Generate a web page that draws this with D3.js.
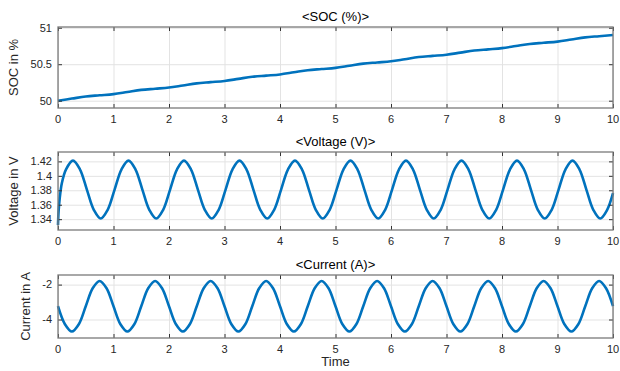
<!DOCTYPE html>
<html>
<head>
<meta charset="utf-8">
<script src="https://cdn.jsdelivr.net/npm/d3@7"></script>
<style>
  body { margin: 0; background: #fff; }
  svg { display: block; font-family: "Liberation Sans", Arial, sans-serif; }
</style>
</head>
<body>
<div id="chart"></div>
<script>
// x ticks shared by all three panels
const timeTicks = [0, 1, 2, 3, 4, 5, 6, 7, 8, 9, 10];

// SOC (%) read every 0.25 s
const socTime = [
    0, 0.25, 0.5, 0.75, 1, 1.25, 1.5, 1.75, 2, 2.25, 2.5, 2.75,
    3, 3.25, 3.5, 3.75, 4, 4.25, 4.5, 4.75, 5, 5.25, 5.5, 5.75,
    6, 6.25, 6.5, 6.75, 7, 7.25, 7.5, 7.75, 8, 8.25, 8.5, 8.75,
    9, 9.25, 9.5, 9.75, 10
];
const socValues = [
    50.000, 50.029, 50.058, 50.074, 50.090, 50.119, 50.148, 50.164,
    50.180, 50.209, 50.238, 50.254, 50.270, 50.299, 50.328, 50.344,
    50.360, 50.389, 50.418, 50.434, 50.450, 50.479, 50.508, 50.524,
    50.540, 50.569, 50.598, 50.614, 50.630, 50.659, 50.688, 50.704,
    50.720, 50.749, 50.778, 50.794, 50.810, 50.839, 50.868, 50.884,
    50.900
];

// Voltage (V) as [time, value]
const voltagePoints = [
    [0, 1.332], [0.01, 1.350], [0.03, 1.368], [0.07, 1.390], [0.145, 1.409], [0.27, 1.421],
    [0.395, 1.409], [0.52, 1.381], [0.645, 1.353], [0.77, 1.341], [0.895, 1.353],
    [1.02, 1.381], [1.145, 1.409], [1.27, 1.421], [1.395, 1.409], [1.52, 1.381], [1.645, 1.353], [1.77, 1.341], [1.895, 1.353],
    [2.02, 1.381], [2.145, 1.409], [2.27, 1.421], [2.395, 1.409], [2.52, 1.381], [2.645, 1.353], [2.77, 1.341], [2.895, 1.353],
    [3.02, 1.381], [3.145, 1.409], [3.27, 1.421], [3.395, 1.409], [3.52, 1.381], [3.645, 1.353], [3.77, 1.341], [3.895, 1.353],
    [4.02, 1.381], [4.145, 1.409], [4.27, 1.421], [4.395, 1.409], [4.52, 1.381], [4.645, 1.353], [4.77, 1.341], [4.895, 1.353],
    [5.02, 1.381], [5.145, 1.409], [5.27, 1.421], [5.395, 1.409], [5.52, 1.381], [5.645, 1.353], [5.77, 1.341], [5.895, 1.353],
    [6.02, 1.381], [6.145, 1.409], [6.27, 1.421], [6.395, 1.409], [6.52, 1.381], [6.645, 1.353], [6.77, 1.341], [6.895, 1.353],
    [7.02, 1.381], [7.145, 1.409], [7.27, 1.421], [7.395, 1.409], [7.52, 1.381], [7.645, 1.353], [7.77, 1.341], [7.895, 1.353],
    [8.02, 1.381], [8.145, 1.409], [8.27, 1.421], [8.395, 1.409], [8.52, 1.381], [8.645, 1.353], [8.77, 1.341], [8.895, 1.353],
    [9.02, 1.381], [9.145, 1.409], [9.27, 1.421], [9.395, 1.409], [9.52, 1.381], [9.645, 1.353], [9.77, 1.341], [9.895, 1.353],
    [10, 1.376]
];

// Current (A) as [time, value], every 0.125 s
const currentPoints = [
    [0, -3.24], [0.125, -4.27], [0.25, -4.69], [0.375, -4.27], [0.5, -3.24], [0.625, -2.21], [0.75, -1.79], [0.875, -2.21],
    [1, -3.24], [1.125, -4.27], [1.25, -4.69], [1.375, -4.27], [1.5, -3.24], [1.625, -2.21], [1.75, -1.79], [1.875, -2.21],
    [2, -3.24], [2.125, -4.27], [2.25, -4.69], [2.375, -4.27], [2.5, -3.24], [2.625, -2.21], [2.75, -1.79], [2.875, -2.21],
    [3, -3.24], [3.125, -4.27], [3.25, -4.69], [3.375, -4.27], [3.5, -3.24], [3.625, -2.21], [3.75, -1.79], [3.875, -2.21],
    [4, -3.24], [4.125, -4.27], [4.25, -4.69], [4.375, -4.27], [4.5, -3.24], [4.625, -2.21], [4.75, -1.79], [4.875, -2.21],
    [5, -3.24], [5.125, -4.27], [5.25, -4.69], [5.375, -4.27], [5.5, -3.24], [5.625, -2.21], [5.75, -1.79], [5.875, -2.21],
    [6, -3.24], [6.125, -4.27], [6.25, -4.69], [6.375, -4.27], [6.5, -3.24], [6.625, -2.21], [6.75, -1.79], [6.875, -2.21],
    [7, -3.24], [7.125, -4.27], [7.25, -4.69], [7.375, -4.27], [7.5, -3.24], [7.625, -2.21], [7.75, -1.79], [7.875, -2.21],
    [8, -3.24], [8.125, -4.27], [8.25, -4.69], [8.375, -4.27], [8.5, -3.24], [8.625, -2.21], [8.75, -1.79], [8.875, -2.21],
    [9, -3.24], [9.125, -4.27], [9.25, -4.69], [9.375, -4.27], [9.5, -3.24], [9.625, -2.21], [9.75, -1.79], [9.875, -2.21],
    [10, -3.24]
];

const COLORS = {
    line: "#0072BD",
    frame: "#7a7a7a",
    tick: "#333",
    grid: "#e3e3e3",
    text: "#262626"
};

const W = 620, H = 371;
const left = 58, right = 613;

const svg = d3.select("#chart").append("svg")
    .attr("width", W)
    .attr("height", H);

const x = d3.scaleLinear().domain([0, 10]).range([left, right]);

const panels = [
    {
        title: "<SOC (%)>", ylabel: "SOC in %", labelX: 18,
        top: 27, bottom: 108, domain: [49.9, 51.01],
        yTicks: [50, 50.5, 51],
        data: socTime.map((t, i) => [t, socValues[i]])
    },
    {
        title: "<Voltage (V)>", ylabel: "Voltage in V", labelX: 18,
        top: 152, bottom: 230, domain: [1.325, 1.433],
        yTicks: [1.34, 1.36, 1.38, 1.4, 1.42],
        data: voltagePoints
    },
    {
        title: "<Current (A)>", ylabel: "Current in A", labelX: 30,
        top: 275, bottom: 338, domain: [-5.06, -1.45],
        yTicks: [-4, -2],
        data: currentPoints
    }
];

panels.forEach(p => drawPanel(p));

function drawPanel(p) {
    const y = d3.scaleLinear().domain(p.domain).range([p.bottom, p.top]);
    const h = p.bottom - p.top;
    const g = svg.append("g");

    // grid
    g.append("g")
        .attr("transform", `translate(0,${p.bottom})`)
        .call(d3.axisBottom(x).tickValues(timeTicks).tickSize(-h).tickFormat(""))
        .call(s => s.select(".domain").remove())
        .call(s => s.selectAll("line").attr("stroke", COLORS.grid));

    g.append("g")
        .attr("transform", `translate(${left},0)`)
        .call(d3.axisLeft(y).tickValues(p.yTicks).tickSize(-(right - left)).tickFormat(""))
        .call(s => s.select(".domain").remove())
        .call(s => s.selectAll("line").attr("stroke", COLORS.grid));

    // data line
    const line = d3.line()
        .x(d => x(d[0]))
        .y(d => y(d[1]))
        .curve(d3.curveCatmullRom.alpha(0.5));

    g.append("path")
        .datum(p.data)
        .attr("fill", "none")
        .attr("stroke", COLORS.line)
        .attr("stroke-width", 2.6)
        .attr("stroke-linejoin", "round")
        .attr("d", line);

    // inward ticks, mirrored on all sides
    const xAxisB = g.append("g")
        .attr("transform", `translate(0,${p.bottom})`)
        .call(d3.axisTop(x).tickValues(timeTicks).tickSize(4).tickFormat(""));
    const xAxisT = g.append("g")
        .attr("transform", `translate(0,${p.top})`)
        .call(d3.axisBottom(x).tickValues(timeTicks).tickSize(4).tickFormat(""));
    const yAxisL = g.append("g")
        .attr("transform", `translate(${left},0)`)
        .call(d3.axisRight(y).tickValues(p.yTicks).tickSize(4).tickFormat(""));
    const yAxisR = g.append("g")
        .attr("transform", `translate(${right},0)`)
        .call(d3.axisLeft(y).tickValues(p.yTicks).tickSize(4).tickFormat(""));
    [xAxisB, xAxisT, yAxisL, yAxisR].forEach(a => {
        a.select(".domain").remove();
        a.selectAll("line").attr("stroke", COLORS.tick);
    });

    // tick labels
    g.selectAll(".xlab")
        .data(timeTicks)
        .join("text")
        .attr("x", d => x(d))
        .attr("y", p.bottom + 15)
        .attr("text-anchor", "middle")
        .attr("font-size", 11)
        .attr("fill", COLORS.text)
        .text(d => d);

    g.selectAll(".ylab")
        .data(p.yTicks)
        .join("text")
        .attr("x", left - 6)
        .attr("y", d => y(d))
        .attr("dy", "0.35em")
        .attr("text-anchor", "end")
        .attr("font-size", 11)
        .attr("fill", COLORS.text)
        .text(d => d);

    // frame
    g.append("rect")
        .attr("x", left)
        .attr("y", p.top)
        .attr("width", right - left)
        .attr("height", h)
        .attr("fill", "none")
        .attr("stroke", COLORS.frame)
        .attr("stroke-width", 1.3);

    // title
    g.append("text")
        .attr("x", (left + right) / 2)
        .attr("y", p.top - 6)
        .attr("text-anchor", "middle")
        .attr("font-size", 13)
        .attr("fill", "#000")
        .text(p.title);

    // y label
    g.append("text")
        .attr("transform", `translate(${p.labelX},${(p.top + p.bottom) / 2}) rotate(-90)`)
        .attr("text-anchor", "middle")
        .attr("font-size", 13)
        .attr("fill", COLORS.text)
        .text(p.ylabel);
}

// x label
svg.append("text")
    .attr("x", (left + right) / 2)
    .attr("y", 366)
    .attr("text-anchor", "middle")
    .attr("font-size", 13)
    .attr("fill", COLORS.text)
    .text("Time");
</script>
</body>
</html>
